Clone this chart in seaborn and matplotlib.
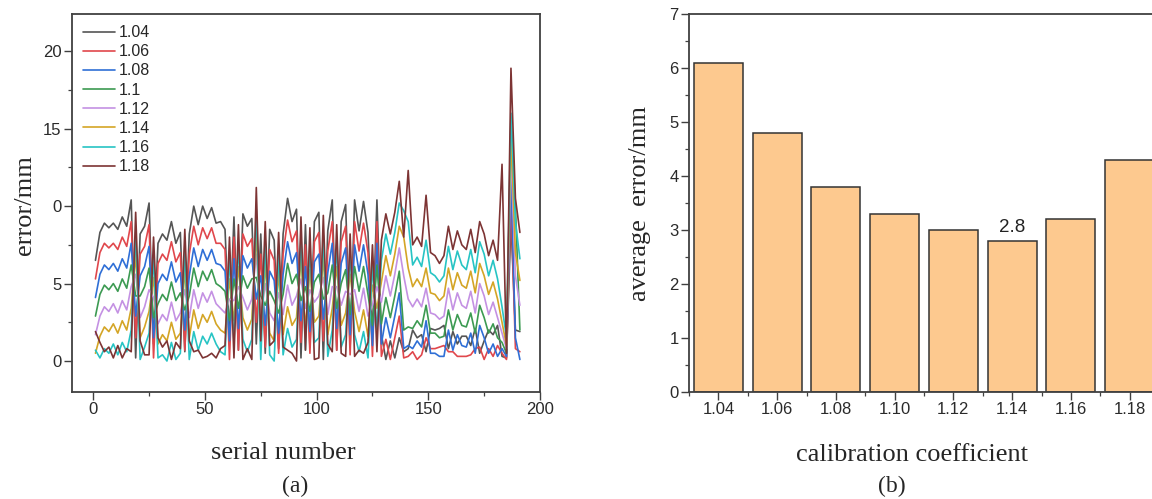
import numpy as np
import pandas as pd
import matplotlib
matplotlib.use('Agg')
import matplotlib.pyplot as plt
import seaborn as sns
from matplotlib.ticker import MultipleLocator, FixedLocator

# (a) error of every sample for each calibration coefficient (read every 2nd serial number)
coef_names = ['1.04', '1.06', '1.08', '1.1', '1.12', '1.14', '1.16', '1.18']
serial = list(range(1, 192, 2))

err_104 = [6.5, 8.3, 8.9, 8.6, 8.9, 8.5, 9.3, 8.7, 10.4, 0.2, 8.2, 8.7,
           10.2, 1.1, 7.6, 8.2, 7.8, 9.0, 7.6, 8.3, 0.6, 8.2, 10.0, 8.8,
           10.0, 9.2, 9.9, 8.9, 9.0, 8.5, 1.5, 9.3, 0.7, 9.5, 8.7, 9.2,
           1.1, 8.2, 0.5, 8.5, 7.8, 0.8, 8.2, 10.5, 9.0, 9.8, 0.2, 8.8,
           0.9, 9.0, 9.6, 0.1, 8.4, 10.4, 0.7, 9.0, 10.1, 0.9, 10.4, 8.4,
           10.3, 8.3, 1.6, 10.4, 1.7, 0.1, 1.3, 0.2, 1.5, 0.6, 0.8, 2.0,
           1.5, 1.7, 0.6, 2.1, 2.0, 2.1, 2.3, 0.8, 1.9, 1.1, 1.6, 1.6,
           1.0, 2.1, 0.5, 1.3, 2.0, 1.7, 2.3, 0.3, 0.2, 9.0, 2.0, 1.9]
err_106 = [5.3, 7.0, 7.6, 7.3, 7.6, 7.2, 8.0, 7.4, 9.0, 1.5, 6.9, 7.4,
           8.8, 0.2, 6.3, 6.9, 6.5, 7.7, 6.4, 7.0, 0.7, 6.9, 8.7, 7.5,
           8.6, 7.9, 8.6, 7.6, 7.6, 7.2, 0.1, 8.0, 0.7, 8.2, 7.4, 7.9,
           2.5, 6.9, 0.9, 7.2, 6.5, 0.5, 6.9, 9.1, 7.7, 8.4, 1.2, 7.5,
           0.5, 7.7, 8.3, 1.3, 7.1, 9.0, 0.7, 7.7, 8.7, 0.4, 9.0, 7.1,
           8.9, 7.0, 0.3, 9.0, 0.3, 1.4, 0.1, 1.5, 2.9, 0.2, 0.3, 0.6,
           0.1, 0.4, 1.5, 0.8, 0.8, 0.9, 1.0, 0.6, 0.6, 0.3, 0.3, 0.3,
           0.4, 0.8, 0.9, 0.1, 0.8, 0.3, 1.0, 0.5, 0.1, 10.5, 0.8, 0.6]
err_108 = [4.1, 5.6, 6.2, 5.9, 6.3, 5.8, 6.6, 6.0, 7.6, 2.9, 5.5, 6.1,
           7.4, 1.5, 5.0, 5.6, 5.2, 6.4, 5.1, 5.7, 2.0, 5.5, 7.3, 6.1,
           7.2, 6.5, 7.2, 6.3, 6.2, 5.8, 1.3, 6.6, 2.1, 6.8, 6.0, 6.6,
           4.0, 5.5, 2.3, 5.8, 5.2, 1.8, 5.6, 7.7, 6.3, 7.0, 2.6, 6.1,
           1.9, 6.4, 6.9, 2.7, 5.7, 7.6, 2.1, 6.3, 7.3, 1.7, 7.5, 5.8,
           7.5, 5.6, 1.0, 7.6, 1.1, 2.8, 1.5, 2.9, 4.4, 0.8, 1.0, 0.8,
           1.3, 0.9, 2.6, 0.5, 0.5, 0.3, 0.3, 2.0, 0.7, 1.7, 1.0, 0.9,
           1.8, 0.5, 2.3, 1.5, 0.5, 1.1, 0.3, 0.8, 0.3, 12.0, 1.5, 0.1]
err_110 = [2.9, 4.3, 4.9, 4.6, 5.0, 4.5, 5.3, 4.7, 6.2, 4.2, 4.2, 4.8,
           6.0, 2.8, 3.7, 4.3, 3.9, 5.1, 3.9, 4.4, 3.3, 4.2, 6.0, 4.8,
           5.8, 5.2, 5.9, 5.0, 4.8, 4.5, 2.6, 5.3, 3.4, 5.5, 4.7, 5.3,
           5.4, 4.2, 3.6, 4.5, 3.9, 3.1, 4.3, 6.3, 5.0, 5.6, 3.9, 4.8,
           3.2, 5.1, 5.6, 4.0, 4.4, 6.2, 3.4, 5.0, 5.9, 3.0, 6.1, 4.5,
           6.1, 4.3, 2.3, 6.2, 2.4, 4.1, 2.8, 4.2, 5.8, 2.0, 2.2, 2.1,
           2.6, 2.2, 3.6, 1.8, 1.8, 1.5, 1.6, 3.3, 2.0, 3.0, 2.3, 2.2,
           3.1, 1.8, 3.6, 2.8, 1.8, 2.4, 1.5, 1.2, 0.5, 15.5, 10.0, 2.0]
err_112 = [1.7, 2.9, 3.5, 3.2, 3.7, 3.1, 3.9, 3.3, 4.8, 5.6, 2.8, 3.5,
           4.6, 4.1, 2.4, 3.0, 2.6, 3.8, 2.6, 3.1, 4.6, 2.8, 4.6, 3.4,
           4.4, 3.8, 4.5, 3.7, 3.4, 3.1, 4.0, 3.9, 4.8, 4.1, 3.3, 4.0,
           6.9, 2.8, 5.0, 3.1, 2.6, 4.4, 3.0, 4.9, 3.6, 4.2, 5.3, 3.4,
           4.6, 3.8, 4.2, 5.4, 3.0, 4.8, 4.8, 3.6, 4.5, 4.3, 4.6, 3.2,
           4.7, 2.9, 3.6, 4.8, 3.8, 5.5, 4.2, 5.6, 7.3, 5.5, 4.0, 3.5,
           4.0, 3.5, 4.7, 3.1, 3.0, 2.7, 2.9, 4.7, 3.3, 4.4, 3.6, 3.4,
           4.5, 3.1, 5.0, 4.2, 3.0, 3.8, 2.8, 1.8, 0.8, 13.5, 5.5, 3.6]
err_114 = [0.5, 1.6, 2.2, 1.9, 2.4, 1.8, 2.6, 2.0, 3.4, 6.9, 1.5, 2.2,
           3.2, 5.4, 1.1, 1.7, 1.3, 2.5, 1.4, 1.8, 5.9, 1.5, 3.3, 2.1,
           3.0, 2.5, 3.2, 2.4, 2.0, 1.8, 5.3, 2.6, 6.1, 2.8, 2.0, 2.7,
           8.3, 1.5, 6.3, 1.8, 1.3, 5.7, 1.7, 3.5, 2.3, 2.8, 6.6, 2.1,
           5.9, 2.5, 2.9, 6.7, 1.7, 3.4, 6.1, 2.3, 3.1, 5.6, 3.2, 1.9,
           3.3, 1.6, 4.9, 3.4, 5.1, 6.8, 5.5, 6.9, 8.7, 8.0, 6.0, 4.8,
           5.3, 4.8, 6.0, 4.4, 4.3, 3.9, 4.2, 6.0, 4.6, 5.7, 4.9, 4.7,
           5.8, 4.4, 6.3, 5.5, 4.3, 5.1, 4.0, 2.5, 1.0, 14.5, 7.0, 5.2]
err_116 = [0.7, 0.2, 0.8, 0.5, 1.1, 0.4, 1.2, 0.6, 2.0, 8.3, 0.1, 0.9,
           1.8, 6.7, 0.2, 0.4, 0.0, 1.2, 0.1, 0.5, 7.2, 0.1, 1.9, 0.7,
           1.6, 1.1, 1.8, 1.1, 0.6, 0.4, 6.7, 1.2, 7.5, 1.4, 0.6, 1.4,
           9.8, 0.1, 7.7, 0.4, 0.0, 7.0, 0.4, 2.1, 0.9, 1.4, 8.0, 0.7,
           7.3, 1.2, 1.5, 8.1, 0.3, 2.0, 7.5, 0.9, 1.7, 6.9, 1.7, 0.6,
           1.9, 0.2, 6.2, 2.0, 6.5, 8.2, 6.9, 8.3, 10.2, 9.7, 9.0, 6.2,
           6.7, 6.1, 7.8, 5.7, 5.5, 5.1, 5.5, 7.4, 5.9, 7.1, 6.2, 5.9,
           7.2, 5.7, 7.7, 6.9, 5.5, 6.5, 5.3, 3.5, 1.5, 16.0, 9.0, 6.6]
err_118 = [1.9, 1.2, 0.6, 0.9, 0.2, 1.0, 0.2, 0.8, 0.6, 9.6, 1.3, 0.4,
           0.4, 8.0, 1.5, 0.9, 1.3, 0.1, 1.2, 0.8, 8.5, 1.3, 0.6, 0.7,
           0.2, 0.3, 0.5, 0.2, 0.8, 1.0, 8.0, 0.2, 8.8, 0.1, 0.8, 0.1,
           11.2, 1.3, 9.0, 1.0, 1.3, 8.3, 0.9, 0.7, 0.5, 0.0, 9.3, 0.7,
           8.6, 0.1, 0.2, 9.4, 1.1, 0.6, 8.8, 0.5, 0.3, 8.2, 0.3, 0.7,
           0.5, 1.2, 7.5, 0.6, 7.8, 9.5, 8.2, 9.6, 11.6, 8.0, 12.3, 7.5,
           8.0, 7.4, 10.7, 7.0, 6.8, 6.3, 6.8, 8.7, 7.2, 8.4, 7.5, 7.2,
           8.5, 7.0, 9.0, 8.2, 6.8, 7.8, 6.5, 12.7, 0.5, 18.9, 10.5, 8.3]

# (b) average error
bar_labels = ['1.04', '1.06', '1.08', '1.10', '1.12', '1.14', '1.16', '1.18']
avg_error = [6.1, 4.8, 3.8, 3.3, 3.0, 2.8, 3.2, 4.3]

line_colors = ['#555555', '#e0474c', '#2f6fd6', '#3c9a52', '#c491e3',
               '#d4a526', '#27c4c4', '#7d3434']
bar_color = '#fdc98f'

series = [err_104, err_106, err_108, err_110, err_112, err_114, err_116, err_118]
df = pd.DataFrame({
    'serial': serial * len(series),
    'error': [v for s in series for v in s],
    'coef': [c for c in coef_names for _ in serial],
})

sns.set_style('ticks')
plt.rcParams['font.family'] = ['Liberation Sans', 'DejaVu Sans']
serif = 'Liberation Serif'
tick_color = '#2a2a2a'
spine_color = '#404040'

W, H = 1152, 499
fig = plt.figure(figsize=(W / 100, H / 100), dpi=100)
ax1 = fig.add_axes([72 / W, 1 - 392 / H, 468 / W, 378 / H])
ax2 = fig.add_axes([689 / W, 1 - 392 / H, 470 / W, 378 / H])

# ---- left panel
sns.lineplot(data=df, x='serial', y='error', hue='coef', hue_order=coef_names,
             palette=line_colors, linewidth=1.2, estimator=None, ax=ax1)
ax1.set_xlim(-9.5, 200)
ax1.set_ylim(-2, 22.4)
ax1.xaxis.set_major_locator(MultipleLocator(50))
ax1.xaxis.set_minor_locator(MultipleLocator(25))
ax1.yaxis.set_major_locator(FixedLocator([0, 5, 10, 15, 20]))
ax1.set_yticklabels(['0', '5', '0', '15', '20'])
ax1.yaxis.set_minor_locator(MultipleLocator(2.5))
ax1.set_xlabel('')
ax1.set_ylabel('')
sns.move_legend(ax1, 'upper left', title=None, frameon=False, fontsize=11.5,
                handlelength=2.0, labelspacing=0.26, handletextpad=0.25,
                borderaxespad=0.3, bbox_to_anchor=(0.0, 1.0))

# ---- right panel
sns.barplot(x=bar_labels, y=avg_error, color=bar_color, saturation=1,
            edgecolor='#333333', linewidth=1.1, width=0.83, ax=ax2)
ax2.set_xlim(-0.5, 7.5)
ax2.set_ylim(0, 7)
ax2.yaxis.set_major_locator(MultipleLocator(1))
ax2.yaxis.set_minor_locator(MultipleLocator(0.5))
ax2.xaxis.set_minor_locator(FixedLocator([i + 0.5 for i in range(-1, 8)]))
ax2.text(5, avg_error[5] + 0.08, f'{avg_error[5]:.1f}', ha='center', va='bottom',
         fontsize=13.5, color='#222222')

for ax in (ax1, ax2):
    for sp in ax.spines.values():
        sp.set_visible(True)
        sp.set_color(spine_color)
        sp.set_linewidth(1.3)
    ax.tick_params(which='major', direction='out', length=5.5, width=1.0,
                   color=spine_color, labelsize=12, labelcolor=tick_color, pad=2)
    ax.tick_params(which='minor', direction='out', length=3, width=0.9, color=spine_color)
    ax.tick_params(top=False, right=False, which='both')

# axis titles and captions (serif, as in the original figure)
fig.text(25 / W, 1 - 205 / H, 'error/mm', rotation=90, ha='center', va='center',
         family=serif, fontsize=19)
fig.text(283 / W, 1 - 453 / H, 'serial number', ha='center', va='center',
         family=serif, fontsize=19)
fig.text(295 / W, 1 - 486 / H, '(a)', ha='center', va='center', family=serif, fontsize=17)

fig.text(640 / W, 1 - 203 / H, 'average  error/mm', rotation=90, ha='center', va='center',
         family=serif, fontsize=19)
fig.text(912 / W, 1 - 455 / H, 'calibration coefficient', ha='center', va='center',
         family=serif, fontsize=19)
fig.text(892 / W, 1 - 486 / H, '(b)', ha='center', va='center', family=serif, fontsize=17)

fig.savefig('out.png', dpi=100)
